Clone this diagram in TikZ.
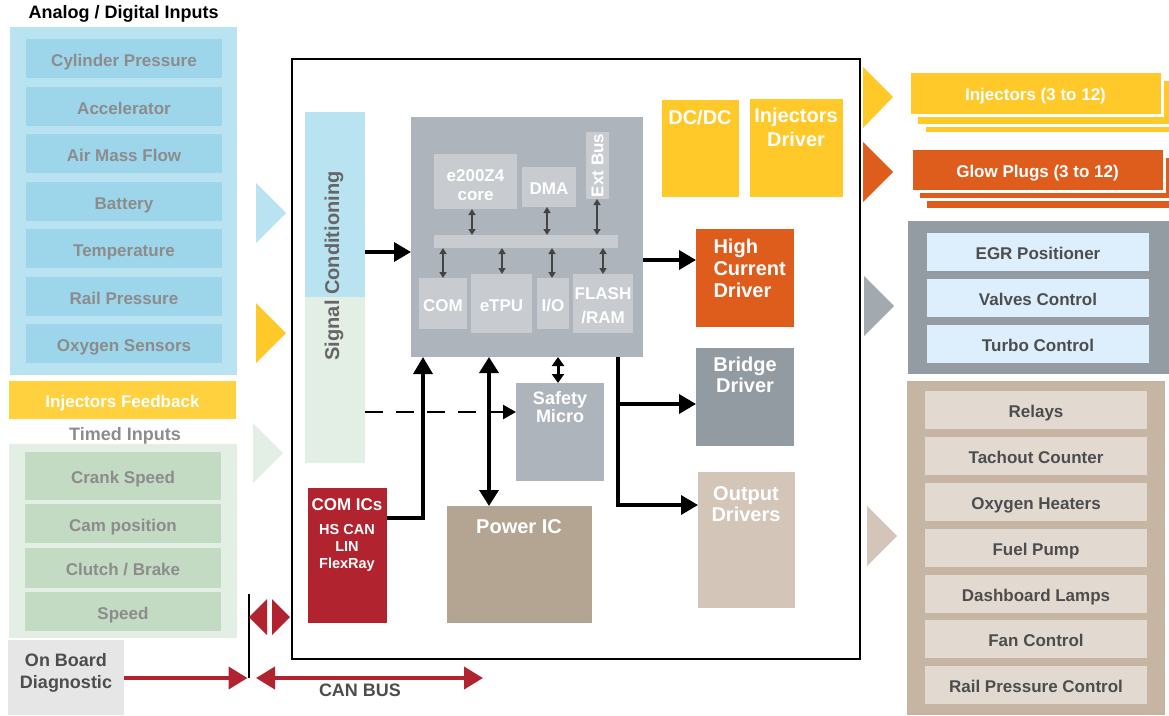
\documentclass[tikz,border=0pt]{standalone}
\usepackage{fontspec}
\setmainfont{Liberation Sans}
\usetikzlibrary{arrows.meta,calc}
\definecolor{anapanel}{HTML}{B9E3F1}
\definecolor{anaitem}{HTML}{9DD5EA}
\definecolor{graytxt}{HTML}{8C8C8C}
\definecolor{yel}{HTML}{FFC929}
\definecolor{fbyel}{HTML}{FFD13F}
\definecolor{timpanel}{HTML}{E3EEE4}
\definecolor{timitem}{HTML}{C3DBC3}
\definecolor{obdgray}{HTML}{E6E6E6}
\definecolor{darktxt}{HTML}{4D4D4D}
\definecolor{canred}{HTML}{B0232F}
\definecolor{orng}{HTML}{DE5D1D}
\definecolor{mcugray}{HTML}{AEB4BB}
\definecolor{mculight}{HTML}{C8CCD0}
\definecolor{bridgegray}{HTML}{939BA2}
\definecolor{egrgray}{HTML}{939CA2}
\definecolor{egritem}{HTML}{DDEFFC}
\definecolor{chevgray}{HTML}{A2A9AF}
\definecolor{pwrtan}{HTML}{B4A593}
\definecolor{outtan}{HTML}{D3C6B8}
\definecolor{outpanel}{HTML}{C5B5A2}
\definecolor{outitem}{HTML}{E2DAD1}
\definecolor{sigtxt}{HTML}{666666}
\definecolor{arrgray}{HTML}{444444}
\newcommand{\mybox}[7][]{\node[blk,#1,minimum width={(#5)-(#3)},minimum height={(#6)-(#4)}] (#2) at ({((#3)+(#5))/2},{((#4)+(#6))/2}) {#7};}
\tikzset{
  blk/.style={inner sep=0pt, outer sep=0pt, draw=none},
  itm/.style={text height=15.2pt, text depth=0pt},
  tA/.style={font=\bfseries\fontsize{17}{19}\selectfont},
  tB/.style={font=\bfseries\fontsize{18}{20}\selectfont},
  tC/.style={font=\bfseries\fontsize{20}{21}\selectfont},
  arr/.style={line width=3.5pt, -{Triangle[length=17pt,width=19pt]}},
  darr/.style={line width=3.5pt, {Triangle[length=16pt,width=19pt]}-{Triangle[length=16pt,width=19pt]}},
  sarr/.style={line width=2pt, draw=arrgray, {Triangle[length=6pt,width=7pt]}-{Triangle[length=6pt,width=7pt]}},
  smarr/.style={line width=3pt, {Triangle[length=9pt,width=12pt]}-{Triangle[length=9pt,width=12pt]}},
  dasharr/.style={line width=2.5pt, dash pattern=on 18pt off 13pt, -{Triangle[length=13pt,width=14pt]}},
  redarr/.style={line width=4pt, draw=canred, -{Triangle[length=19pt,width=22pt]}},
  redarr2/.style={line width=4pt, draw=canred, {Triangle[length=19pt,width=22pt]}-{Triangle[length=19pt,width=22pt]}},
  card/.style={fill=#1, draw=white, line width=3pt}
}
\begin{document}
\begin{tikzpicture}[x=1pt,y=-1pt]
\useasboundingbox (0,0) rectangle (1169,715);
% ---------- left inputs ----------
\node[anchor=west, tB] (title) at (25,14) {Analog / Digital Inputs};
\mybox[fill=anapanel]{ana}{10}{27}{237}{375}{}
\foreach \y/\n/\t in {39/a1/Cylinder Pressure,87/a2/Accelerator,134/a3/Air Mass Flow,182/a4/Battery,229/a5/Temperature,277/a6/Rail Pressure,324/a7/Oxygen Sensors}
  {\mybox[tA,itm,fill=anaitem,text=graytxt]{\n}{26}{\y}{222}{\y+39}{\t}}
\mybox[tA,itm,fill=fbyel,text=white]{fb}{9}{381}{236}{419}{Injectors Feedback}
\node[tB, itm, text=graytxt] (timedlbl) at (125,433) {Timed Inputs};
\mybox[fill=timpanel]{tim}{9}{444}{237}{638}{}
\foreach \y/\n/\h/\t in {452/t1/48/Crank Speed,504/t2/39/Cam position,548/t3/40/{Clutch / Brake},592/t4/39/Speed}
  {\mybox[tA,itm,fill=timitem,text=graytxt]{\n}{25}{\y}{221}{\y+\h}{\t}}
\mybox[fill=obdgray]{obd}{8}{640}{124}{715}{}
\node[text=darktxt, align=center, font=\bfseries\fontsize{18}{22}\selectfont] (obdlbl) at (66,673) {On Board\\Diagnostic};
% chevrons left
\fill[anapanel] (256,183) -- (286,213) -- (256,243) -- cycle;
\fill[yel] (256,303) -- (286,333) -- (256,363) -- cycle;
\fill[timpanel] (253,423) -- (283,453) -- (253,483) -- cycle;
% ---------- main ECU box ----------
\mybox[draw=black, line width=2pt]{ecu}{292}{59}{860}{659}{}
\mybox{sig}{305}{112}{365}{463}{}
\fill[anapanel] (305,112) rectangle (365,297);
\fill[timpanel] (305,297) rectangle (365,463);
\node[rotate=90, tC, text=sigtxt] (siglbl) at (334,266) {Signal Conditioning};
% MCU
\mybox[fill=mcugray]{mcu}{411}{117}{643}{357}{}
\mybox[fill=mculight]{core}{434}{154}{517}{209}{}
\node[tA, text=white, align=center, font=\bfseries\fontsize{17}{18.5}\selectfont] (corelbl) at (475.5,185) {e200Z4\\core};
\mybox[tA,itm,fill=mculight,text=white]{dma}{522}{167}{576}{207}{DMA}
\mybox[fill=mculight]{extbus}{586}{132}{609}{199}{}
\node[rotate=90, tA, text=white] (extlbl) at (extbus.center) {Ext Bus};
\mybox[fill=mculight]{bus}{434}{235}{618}{248}{}
\mybox[tA,itm,fill=mculight,text=white]{com}{419}{278}{467}{329}{COM}
\mybox[tA,itm,fill=mculight,text=white]{etpu}{471}{274}{532}{333}{eTPU}
\mybox[tA,itm,fill=mculight,text=white]{io}{537}{278}{569}{329}{I/O}
\mybox[fill=mculight]{flash}{573}{274}{633}{333}{}
\node[text=white, align=center, font=\bfseries\fontsize{17}{24}\selectfont] (flashlbl) at (603,306) {FLASH\\/RAM};
\draw[sarr] (472,0 |- core.south) -- (472,0 |- bus.north);
\draw[sarr] (547,0 |- dma.south) -- (547,0 |- bus.north);
\draw[sarr] (597,0 |- extbus.south) -- (597,0 |- bus.north);
\draw[sarr] (443,0 |- bus.south) -- (443,0 |- com.north);
\draw[sarr] (502,0 |- bus.south) -- (502,0 |- etpu.north);
\draw[sarr] (552,0 |- bus.south) -- (552,0 |- io.north);
\draw[sarr] (603,0 |- bus.south) -- (603,0 |- flash.north);
% drivers
\mybox[fill=yel]{dcdc}{662}{100}{739}{197}{}
\node[tC, text=white] (dclbl) at (700,117) {DC/DC};
\mybox[fill=yel]{injdrv}{750}{99}{843}{197}{}
\node[tC, text=white, align=center, font=\bfseries\fontsize{20}{24}\selectfont] (injdrvlbl) at (796,127) {Injectors\\Driver};
\mybox[fill=orng]{hcd}{696}{229}{794}{327}{}
\node[tC, text=white, align=left, anchor=north west, font=\bfseries\fontsize{20}{22}\selectfont] (hcdlbl) at (710,235) {High\\Current\\Driver};
\mybox[fill=bridgegray]{bridge}{696}{348}{794}{446}{}
\node[tC, text=white, align=center] (bridgelbl) at (745,375) {Bridge\\Driver};
\mybox[fill=outtan]{outdrv}{698}{472}{795}{608}{}
\node[tC, text=white, align=center] (outdrvlbl) at (746,504) {Output\\Drivers};
\mybox[fill=mcugray]{safety}{516}{383}{604}{481}{}
\node[tB, text=white, align=center, font=\bfseries\fontsize{18}{18}\selectfont] (safetylbl) at (560,407) {Safety\\Micro};
\mybox[fill=pwrtan]{pwr}{447}{506}{592}{623}{}
\node[tC, text=white] (pwrlbl) at (519,527) {Power IC};
\mybox[fill=canred]{comics}{308}{488}{387}{623}{}
\node[tA, text=white] (comicslbl) at (347,505) {COM ICs};
\node[text=white, align=center, font=\bfseries\fontsize{14.5}{17}\selectfont] (comicssub) at (347,548) {HS CAN\\LIN\\FlexRay};
% connectors
\draw[arr] (sig.east |- 0,252) -- (mcu.west |- 0,252);
\draw[arr] (mcu.east |- 0,260) -- (hcd.west |- 0,260);
\coordinate (junc) at (618,404);
\draw[arr] (618,0 |- mcu.south) |- (outdrv.west |- 0,505);
\draw[arr] (junc) -- (bridge.west |- junc);
\draw[smarr] (558,0 |- mcu.south) -- (558,0 |- safety.north);
\draw[dasharr] (sig.east |- 0,412) -- (safety.west |- 0,412);
\draw[arr] (comics.east |- 0,518) -| (423,0 |- mcu.south);
\draw[darr] (489,0 |- mcu.south) -- (489,0 |- pwr.north);
% ---------- CAN bus ----------
\coordinate (canT) at (249,594);
\coordinate (canB) at (249,678);
\draw[line width=2pt] (canT) -- (canB);
\fill[canred] (267,599) -- (249,617) -- (267,635) -- cycle;
\fill[canred] (272,599) -- (290,617) -- (272,635) -- cycle;
\draw[redarr, shorten >=1.5pt] (obd.east |- canB) -- (canB);
\coordinate (canL) at (256,678);
\coordinate (canR) at (483,678);
\draw[redarr2] (canL) -- (canR);
\node[tB, text=darktxt] (canlbl) at (360,690) {CAN BUS};
% ---------- right outputs ----------
\fill[yel] (863,67) -- (893,97) -- (863,128) -- cycle;
\fill[orng] (863,142) -- (893,172) -- (863,202) -- cycle;
\fill[chevgray] (864,276) -- (894,306) -- (864,336) -- cycle;
\fill[outtan] (867,506) -- (897,536) -- (867,566) -- cycle;
\begin{scope}
\clip (0,0) rectangle (1169,715);
\draw[card=yel] (924,87) rectangle (1180,133);
\draw[card=yel] (916,79) rectangle (1170,125);
\mybox[card=yel, tA, itm, text=white]{inj}{909}{71}{1162}{115}{Injectors (3 to 12)}
\draw[card=orng] (925,164) rectangle (1182,209);
\draw[card=orng] (918,156) rectangle (1172,199);
\mybox[card=orng, tA, itm, text=white]{glow}{911}{148}{1164}{191}{Glow Plugs (3 to 12)}
\end{scope}
\mybox[fill=egrgray]{egr}{908}{221}{1169}{374}{}
\foreach \y/\n/\t in {233/e1/EGR Positioner,279/e2/Valves Control,325/e3/Turbo Control}
  {\mybox[tA,itm,fill=egritem,text=darktxt]{\n}{927}{\y}{1149}{\y+38}{\t}}
\mybox[fill=outpanel]{outp}{907}{381}{1165}{715}{}
\foreach \y/\n/\t in {391/o1/Relays,437/o2/Tachout Counter,483/o3/Oxygen Heaters,529/o4/Fuel Pump,575/o5/Dashboard Lamps,620/o6/Fan Control,666/o7/Rail Pressure Control}
  {\mybox[tA,itm,fill=outitem,text=darktxt]{\n}{925}{\y}{1147}{\y+38}{\t}}
\end{tikzpicture}
\end{document}
